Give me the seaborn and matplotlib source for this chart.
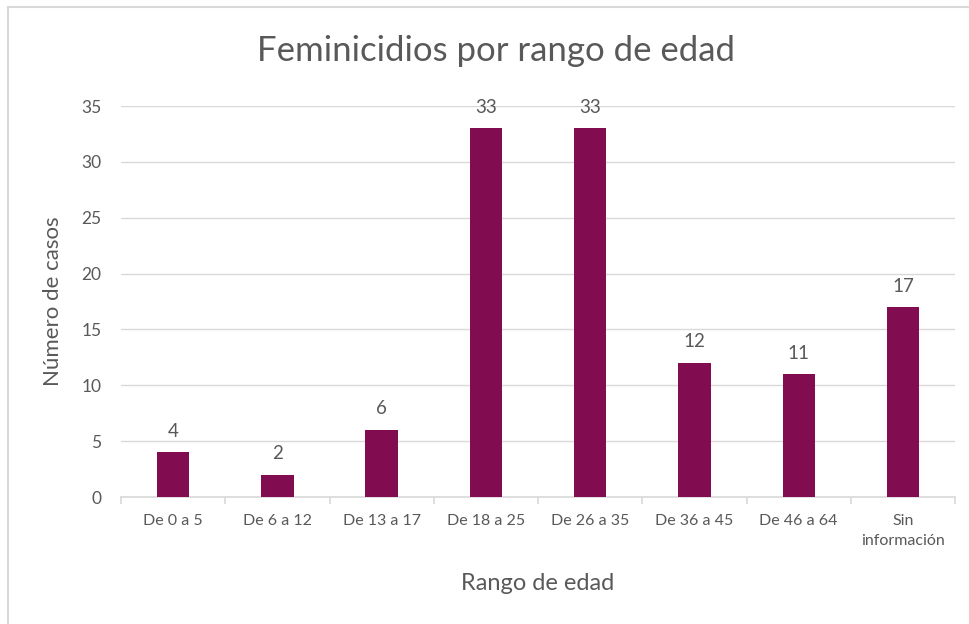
import matplotlib
matplotlib.use('Agg')
import matplotlib.pyplot as plt
import matplotlib.patches as mpatches
import seaborn as sns

# Data
categories = ['De 0 a 5', 'De 6 a 12', 'De 13 a 17', 'De 18 a 25',
              'De 26 a 35', 'De 36 a 45', 'De 46 a 64', 'Sin\ninformación']
cases = [4, 2, 6, 33, 33, 12, 11, 17]
y_ticks = [0, 5, 10, 15, 20, 25, 30, 35]

BAR_COLOR = '#820C50'
TEXT_COLOR = '#595959'
GRID_COLOR = '#D9D9D9'

sns.set_theme(style='white')
plt.rcParams['font.family'] = ['Lato', 'DejaVu Sans']

fig = plt.figure(figsize=(9.7, 6.24), dpi=100)
ax = fig.add_axes([0.1247, 0.2035, 0.86, 0.6266])

# chart frame (cropped on the right and bottom like the source)
fig.patches.append(mpatches.Rectangle(
    (8 / 970, -0.05), 1.1, 1 - 7 / 624 + 0.05, transform=fig.transFigure,
    fill=False, edgecolor=GRID_COLOR, linewidth=1.5, zorder=0))

sns.barplot(x=categories, y=cases, color=BAR_COLOR, width=0.31,
            saturation=1, linewidth=0, ax=ax, zorder=3)

ax.bar_label(ax.containers[0], padding=9, fontsize=13.5, color=TEXT_COLOR)

ax.set_ylim(0, 35)
ax.set_xlim(-0.5, len(categories) - 0.5)
ax.set_yticks(y_ticks)
ax.yaxis.grid(True, color=GRID_COLOR, linewidth=1)
ax.set_axisbelow(True)

for side in ['top', 'right', 'left']:
    ax.spines[side].set_visible(False)
ax.spines['bottom'].set_color(GRID_COLOR)
ax.spines['bottom'].set_linewidth(1.2)

ax.tick_params(axis='y', length=0, pad=14, labelsize=12.5, labelcolor=TEXT_COLOR)
ax.tick_params(axis='x', which='major', length=0, pad=12, labelsize=11.5,
               labelcolor=TEXT_COLOR)
for lbl in ax.get_xticklabels():
    lbl.set_linespacing(1.55)
ax.set_xticks([i - 0.5 for i in range(len(categories) + 1)], minor=True)
ax.tick_params(axis='x', which='minor', length=5, color=GRID_COLOR, width=1.2,
               bottom=True)

ax.set_xlabel('Rango de edad', fontsize=17, color=TEXT_COLOR, labelpad=18)
ax.set_ylabel('Número de casos', fontsize=16, color=TEXT_COLOR, labelpad=13)

fig.text(0.511, 0.919, 'Feminicidios por rango de edad', ha='center',
         va='center', fontsize=25, color=TEXT_COLOR)

fig.savefig('out.png', dpi=100)
